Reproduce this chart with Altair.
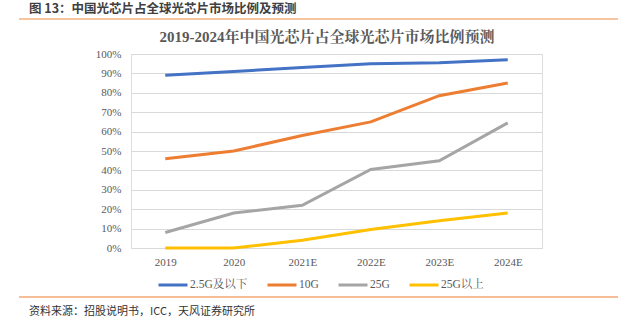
import altair as alt
import pandas as pd

years = ["2019", "2020", "2021E", "2022E", "2023E", "2024E"]
series = ["2.5G及以下", "10G", "25G", "25G以上"]
s_25_below = [0.89, 0.91, 0.93, 0.95, 0.955, 0.97]
s_10g = [0.46, 0.50, 0.58, 0.65, 0.785, 0.85]
s_25g = [0.08, 0.18, 0.22, 0.405, 0.45, 0.645]
s_25_above = [0.0, 0.0, 0.04, 0.095, 0.14, 0.18]
colors = ["#4472C4", "#ED7D31", "#A5A5A5", "#FFC000"]
y_ticks = [0, 0.1, 0.2, 0.3, 0.4, 0.5, 0.6, 0.7, 0.8, 0.9, 1.0]

header = "图 13：中国光芯片占全球光芯片市场比例及预测"
chart_title = "2019-2024年中国光芯片占全球光芯片市场比例预测"
source = "资料来源：招股说明书，ICC，天风证券研究所"

rows = []
for name, vals in zip(series, [s_25_below, s_10g, s_25g, s_25_above]):
    for yr, v in zip(years, vals):
        rows.append({"year": yr, "series": name, "value": v})
df = pd.DataFrame(rows)

SERIF = "Liberation Serif, Noto Serif CJK SC, Noto Sans CJK SC"
SANS = "Noto Sans CJK SC"

lines = alt.Chart(df).mark_line(strokeWidth=3, clip=False).encode(
    x=alt.X("year:N", sort=years, title=None,
            axis=alt.Axis(labelAngle=0, domain=False, ticks=False, grid=False,
                          labelFont=SERIF, labelFontSize=11, labelColor="#595959",
                          labelPadding=8)),
    y=alt.Y("value:Q", title=None,
            scale=alt.Scale(domain=[0, 1], nice=False),
            axis=alt.Axis(values=y_ticks, format=".0%", domain=False, ticks=False,
                          gridColor="#D9D9D9", gridWidth=1,
                          labelFont=SERIF, labelFontSize=11, labelColor="#595959",
                          labelPadding=10)),
    color=alt.Color("series:N", sort=series,
                    scale=alt.Scale(domain=series, range=colors),
                    legend=alt.Legend(title=None, orient="none", legendX=26, legendY=215,
                                      direction="horizontal", columns=4,
                                      symbolType="stroke", symbolSize=841,
                                      symbolStrokeWidth=3, columnPadding=13,
                                      labelOffset=1, labelFont=SERIF, labelFontSize=11.5,
                                      labelColor="#595959")),
)

one = pd.DataFrame({"k": [0]})

head_text = alt.Chart(one).mark_text(
    align="left", baseline="middle", font=SANS, fontSize=12.5, fontWeight="bold",
    color="#404040").encode(x=alt.value(-102), y=alt.value(-45), text=alt.value(header))

top_rule = alt.Chart(one).mark_rule(color="#F4B183", strokeWidth=1.5).encode(
    x=alt.value(-112), x2=alt.value(487), y=alt.value(-35))

title_text = alt.Chart(one).mark_text(
    align="center", baseline="middle", font=SERIF, fontSize=15, fontWeight="bold",
    color="#595959").encode(x=alt.value(196), y=alt.value(-17), text=alt.value(chart_title))

bottom_rule = alt.Chart(one).mark_rule(color="#ED7D31", strokeWidth=1).encode(
    x=alt.value(-112), x2=alt.value(487), y=alt.value(243))

source_text = alt.Chart(one).mark_text(
    align="left", baseline="middle", font=SANS, fontSize=11,
    color="#333333").encode(x=alt.value(-102), y=alt.value(258), text=alt.value(source))

chart = alt.layer(lines, head_text, top_rule, title_text, bottom_rule, source_text).properties(
    width=411, height=194,
    autosize=alt.AutoSizeParams(type="none"),
    padding={"left": 131, "top": 54, "right": 91, "bottom": 77},
).configure_view(stroke=None).configure(background="white")

chart.save("out.html", embed_options={"renderer": "svg", "actions": False})
